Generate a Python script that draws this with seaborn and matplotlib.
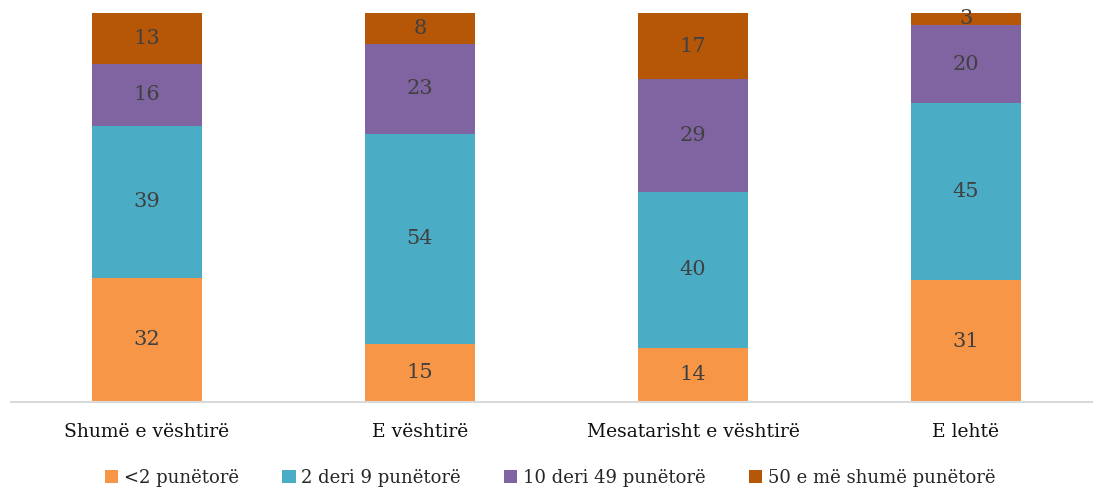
import numpy as np
import pandas as pd
import matplotlib
matplotlib.use("Agg")
import matplotlib.pyplot as plt
import seaborn as sns
from matplotlib.patches import Patch

categories = ["Shumë e vështirë", "E vështirë", "Mesatarisht e vështirë", "E lehtë"]
series_names = ["<2 punëtorë", "2 deri 9 punëtorë", "10 deri 49 punëtorë", "50 e më shumë punëtorë"]
s_lt2 = [32, 15, 14, 31]
s_2_9 = [39, 54, 40, 45]
s_10_49 = [16, 23, 29, 20]
s_50p = [13, 8, 17, 3]
colors = ["#F79646", "#4BACC6", "#8064A2", "#B65708"]

sns.set_theme(style="white")
plt.rcParams['font.family'] = ['DejaVu Serif']

values = np.array([s_lt2, s_2_9, s_10_49, s_50p], dtype=float)
totals = values.sum(axis=0)
pct = values / totals * 100

fig = plt.figure(figsize=(10.93, 4.93), dpi=100)
W, H = 1093, 493
ax = fig.add_axes([10.5 / W, 1 - 402 / H, 1092 / W, 389 / H])

bottom = np.zeros(len(categories))
for i, name in enumerate(series_names):
    df = pd.DataFrame({"cat": categories, "val": pct[i]})
    sns.barplot(data=df, x="cat", y="val", color=colors[i], bottom=bottom,
                width=0.403, ax=ax, saturation=1, linewidth=0)
    for j in range(len(categories)):
        ax.text(j, bottom[j] + pct[i][j] / 2, f"{int(values[i][j])}",
                ha="center", va="center", fontsize=15, color="#404040")
    bottom = bottom + pct[i]

ax.set_ylim(0, 100)
ax.set_xlim(-0.5, 3.5)
ax.set_xlabel("")
ax.set_ylabel("")
ax.set_yticks([])
for s in ["top", "left", "right"]:
    ax.spines[s].set_visible(False)
ax.spines["bottom"].set_color("#D9D9D9")
ax.spines["bottom"].set_linewidth(1.5)
ax.tick_params(axis="x", length=0, labelsize=13.5, colors="#111111", pad=15)

handles = [Patch(facecolor=c, edgecolor="none") for c in colors]
fig.legend(handles, series_names, loc="center", bbox_to_anchor=(550 / W, 1 - 478 / H),
           ncol=4, frameon=False, fontsize=13, handlelength=0.75, handleheight=0.75,
           handletextpad=0.3, columnspacing=2.4)

fig.savefig("out.png", dpi=100)
